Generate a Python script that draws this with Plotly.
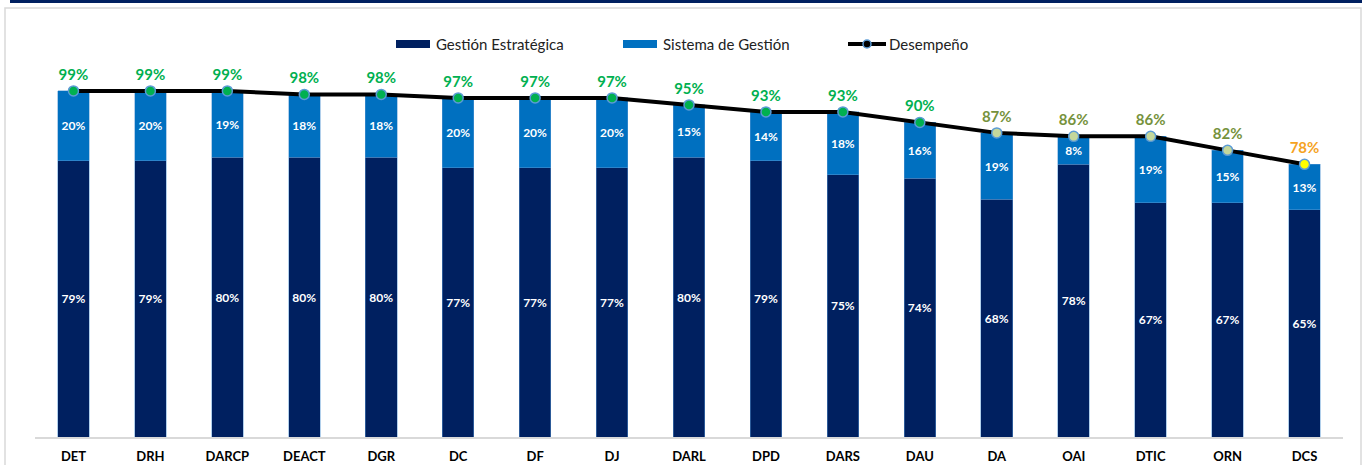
import plotly.graph_objects as go

categories = ["DET", "DRH", "DARCP", "DEACT", "DGR", "DC", "DF", "DJ", "DARL",
              "DPD", "DARS", "DAU", "DA", "OAI", "DTIC", "ORN", "DCS"]
gestion_estrategica = [79, 79, 80, 80, 80, 77, 77, 77, 80, 79, 75, 74, 68, 78, 67, 67, 65]
sistema_gestion = [20, 20, 19, 18, 18, 20, 20, 20, 15, 14, 18, 16, 19, 8, 19, 15, 13]
desempeno = [99, 99, 99, 98, 98, 97, 97, 97, 95, 93, 93, 90, 87, 86, 86, 82, 78]
legend_names = ["Gestión Estratégica", "Sistema de Gestión", "Desempeño"]

NAVY = "#002060"
BLUE = "#0070C0"


def point_style(v):
    if v >= 90:
        return "#00B050", "#00B050"
    if v >= 80:
        return "#C4D79B", "#76923C"
    return "#FFFF00", "#F5A31F"


marker_colors = [point_style(v)[0] for v in desempeno]
text_colors = [point_style(v)[1] for v in desempeno]

W, H = 1362, 465
L, R, T, B = 35, 19, 35, 28
PW, PH = W - L - R, H - T - B


def px_x(p):
    return (p - L) / PW


def px_y(p):
    return (H - B - p) / PH


fig = go.Figure()
fig.add_trace(go.Bar(
    x=categories, y=[v / 100 for v in gestion_estrategica], name=legend_names[0],
    marker=dict(color=NAVY, line=dict(color="rgba(91,155,213,0.6)", width=0.8)),
    text=[f"{v}%" for v in gestion_estrategica], textposition="inside",
    insidetextanchor="middle", textangle=0,
    textfont=dict(color="white", size=12, family="Lato", weight="bold"),
    hoverinfo="skip", showlegend=False,
))
fig.add_trace(go.Bar(
    x=categories, y=[v / 100 for v in sistema_gestion], name=legend_names[1],
    marker=dict(color=BLUE, line=dict(color="rgba(91,155,213,0.6)", width=0.8)),
    text=[f"{v}%" for v in sistema_gestion], textposition="inside",
    insidetextanchor="middle", textangle=0,
    textfont=dict(color="white", size=12, family="Lato", weight="bold"),
    hoverinfo="skip", showlegend=False,
))
fig.add_trace(go.Scatter(
    x=categories, y=[v / 100 for v in desempeno], mode="lines+markers+text",
    name=legend_names[2], showlegend=False,
    line=dict(color="black", width=4),
    marker=dict(size=10, color=marker_colors, line=dict(color="#5B9BD5", width=1.5)),
    text=[f"{v}%" for v in desempeno], textposition="top center",
    textfont=dict(color=text_colors, size=15, family="Lato", weight="bold"),
))

shapes = [
    dict(type="rect", xref="paper", yref="paper",
         x0=px_x(5), x1=px_x(1361), y0=px_y(470), y1=px_y(8),
         line=dict(color="#D9D9D9", width=1.5), fillcolor="rgba(0,0,0,0)", layer="below"),
    dict(type="rect", xref="paper", yref="paper",
         x0=px_x(10), x1=px_x(1365), y0=px_y(3), y1=px_y(-2),
         line=dict(width=0), fillcolor=NAVY, layer="above"),
    dict(type="rect", xref="paper", yref="paper",
         x0=px_x(396), x1=px_x(430), y0=px_y(48), y1=px_y(40),
         line=dict(width=0), fillcolor=NAVY),
    dict(type="rect", xref="paper", yref="paper",
         x0=px_x(623), x1=px_x(657), y0=px_y(48), y1=px_y(40),
         line=dict(width=0), fillcolor=BLUE),
    dict(type="line", xref="paper", yref="paper",
         x0=px_x(848), x1=px_x(886), y0=px_y(44), y1=px_y(44),
         line=dict(color="black", width=4)),
    dict(type="circle", xref="paper", yref="paper",
         x0=px_x(863), x1=px_x(871), y0=px_y(48), y1=px_y(40),
         line=dict(color="#5B9BD5", width=1.5), fillcolor="black"),
]
annotations = []
for name, xpx in zip(legend_names, [434, 661, 887]):
    annotations.append(dict(
        text=name, xref="paper", yref="paper", x=px_x(xpx), y=px_y(44),
        xanchor="left", yanchor="middle", showarrow=False,
        font=dict(size=15, family="Lato", color="#222"),
    ))

fig.update_layout(
    width=W, height=H,
    margin=dict(l=L, r=R, t=T, b=B),
    barmode="stack", bargap=0.59,
    plot_bgcolor="white", paper_bgcolor="white",
    font=dict(family="Lato", color="black"),
    showlegend=False,
    xaxis=dict(range=[-0.5, 16.5], showline=True, linecolor="#D9D9D9", linewidth=1.5,
               ticks="", showgrid=False, ticklabelstandoff=7, automargin=False,
               tickfont=dict(size=13, family="Lato", weight="bold", color="black")),
    yaxis=dict(range=[0, 1.15], visible=False, showgrid=False, zeroline=False,
               automargin=False),
    shapes=shapes,
    annotations=annotations,
)

fig.write_html("out.html", config={"displayModeBar": False},
               post_script="document.body.style.margin='0';")
